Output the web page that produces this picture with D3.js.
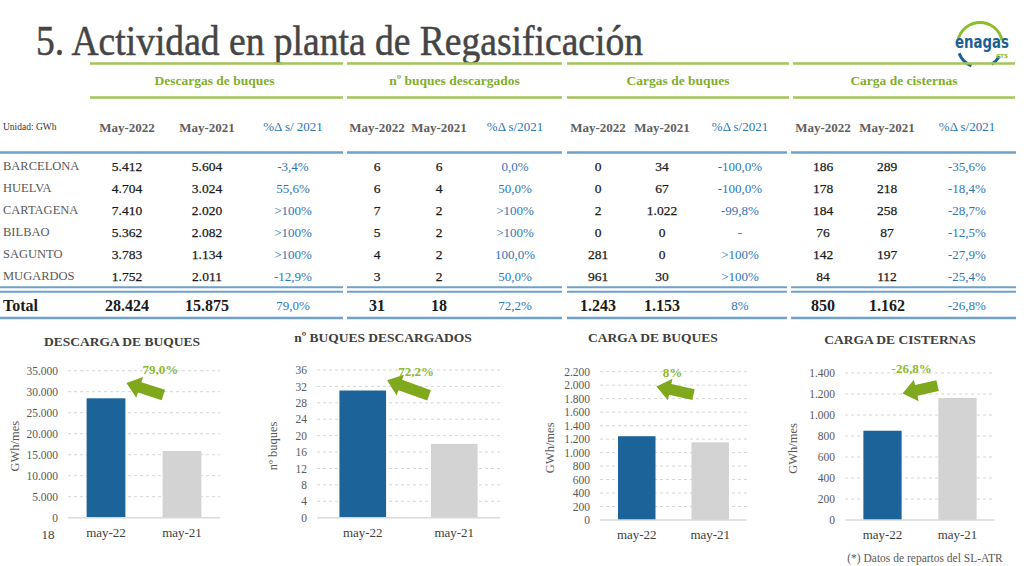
<!DOCTYPE html>
<html>
<head>
<meta charset="utf-8">
<script src="https://cdn.jsdelivr.net/npm/d3@7"></script>
<style>
body { margin: 0; background: #fff; }
svg text { font-family: "Liberation Serif", "Times New Roman", serif; }
</style>
</head>
<body>
<svg id="chart" width="1024" height="566"></svg>
<script>
// datos de la tabla
var plants = ["BARCELONA", "HUELVA", "CARTAGENA", "BILBAO", "SAGUNTO", "MUGARDOS"];
var descargas22 = [5412, 4704, 7410, 5362, 3783, 1752];
var descargas21 = [5604, 3024, 2020, 2082, 1134, 2011];
var descargasPct = ["-3,4%", "55,6%", ">100%", ">100%", ">100%", "-12,9%"];
var buques22 = [6, 6, 7, 5, 4, 3];
var buques21 = [6, 4, 2, 2, 2, 2];
var buquesPct = ["0,0%", "50,0%", ">100%", ">100%", "100,0%", "50,0%"];
var cargas22 = [0, 0, 2, 0, 281, 961];
var cargas21 = [34, 67, 1022, 0, 0, 30];
var cargasPct = ["-100,0%", "-100,0%", "-99,8%", "-", ">100%", ">100%"];
var cisternas22 = [186, 178, 184, 76, 142, 84];
var cisternas21 = [289, 218, 258, 87, 197, 112];
var cisternasPct = ["-35,6%", "-18,4%", "-28,7%", "-12,5%", "-27,9%", "-25,4%"];
var totals22 = [28424, 31, 1243, 850];
var totals21 = [15875, 18, 1153, 1162];
var totalsPct = ["79,0%", "72,2%", "8%", "-26,8%"];

var groupTitles = ["Descargas de buques", "nº buques descargados", "Cargas de buques", "Carga de cisternas"];
var colHeaders = ["May-2022", "May-2021"];
var pctHeaders = ["%Δ s/ 2021", "%Δ s/2021", "%Δ s/2021", "%Δ s/2021"];

// datos de los graficos
var chartTitles = ["DESCARGA DE BUQUES", "nº BUQUES DESCARGADOS", "CARGA DE BUQUES", "CARGA DE CISTERNAS"];
var chartUnits = ["GWh/mes", "nº buques", "GWh/mes", "GWh/mes"];
var months = ["may-22", "may-21"];
var yMax = [35000, 36, 2200, 1400];
var yStep = [5000, 4, 200, 200];

var green = "#a3c55a", greenText = "#83ad2c", arrowGreen = "#7fa81c";
var blueLine = "#6fa1c9", blueText = "#2e75b6", grayText = "#595959";

var es = d3.formatLocale({decimal: ",", thousands: ".", grouping: [3], currency: ["", "€"]});
var fmt = es.format(",d");

var svg = d3.select("#chart");

// titulo
svg.append("text")
    .attr("x", 36).attr("y", 55)
    .attr("textLength", 607).attr("lengthAdjust", "spacingAndGlyphs")
    .style("font-size", "42px").style("fill", "#454545")
    .style("stroke", "#454545").style("stroke-width", 0.5)
    .text("5. Actividad en planta de Regasificación");

// logo
var logo = svg.append("g").attr("transform", "translate(980,45)");
var arc = d3.arc().innerRadius(21).outerRadius(24);
logo.append("path").attr("d", arc({startAngle: -1.35, endAngle: 1.35})).style("fill", "#8cbd2b");
logo.append("path").attr("d", arc({startAngle: -2.75, endAngle: -1.95})).style("fill", "#1d5f93");
logo.append("path").attr("d", arc({startAngle: 2.1, endAngle: 2.6})).style("fill", "#1d5f93");
logo.append("text").attr("x", 2).attr("y", 3).attr("text-anchor", "middle")
    .style("font-family", "'DejaVu Sans Condensed', 'Liberation Sans Narrow', sans-serif")
    .style("font-size", "17px").style("font-weight", "bold").style("fill", "#1d5f93")
    .attr("textLength", 54).attr("lengthAdjust", "spacingAndGlyphs")
    .text("enagas");
logo.append("text").attr("x", 22).attr("y", 13).attr("text-anchor", "middle")
    .style("font-family", "'DejaVu Sans', sans-serif")
    .style("font-size", "5.5px").style("font-weight", "bold").style("fill", "#8cbd2b")
    .text("GTS");

// cabecera de la tabla
var greenSegs = [[90, 343], [347, 562], [567, 789], [793, 1015]];
var blueSegs = [[0, 343], [347, 562], [567, 787], [791, 1016]];
var colX = [[127, 207, 293], [377, 439, 515], [598, 662, 740], [823, 887, 967]];

var rowY = d3.scalePoint().domain(plants).range([166, 276]);

[63.5, 97.5].forEach(function (y) {
    svg.append("g").selectAll("line").data(greenSegs).enter().append("line")
        .attr("x1", function (d) { return d[0]; }).attr("x2", function (d) { return d[1]; })
        .attr("y1", y).attr("y2", y)
        .style("stroke", green).style("stroke-width", 2.5);
});

svg.append("g").selectAll("text").data(groupTitles).enter().append("text")
    .attr("x", function (d, i) { return (greenSegs[i][0] + greenSegs[i][1]) / 2 + (i == 0 ? -2 : 0); })
    .attr("y", 80).attr("dy", "0.35em").attr("text-anchor", "middle")
    .style("font-size", "13.5px").style("font-weight", "bold").style("fill", greenText)
    .text(function (d) { return d; });

svg.append("text").attr("x", 3).attr("y", 127).attr("dy", "0.35em")
    .style("font-size", "9.5px").style("fill", "#333").text("Unidad: GWh");

colX.forEach(function (cx, g) {
    colHeaders.forEach(function (h, k) {
        svg.append("text").attr("x", cx[k]).attr("y", 127).attr("dy", "0.35em")
            .attr("text-anchor", "middle")
            .style("font-size", "13px").style("font-weight", "bold").style("fill", "#5f5f5f")
            .text(h);
    });
    svg.append("text").attr("x", cx[2]).attr("y", 126).attr("dy", "0.35em")
        .attr("text-anchor", "middle")
        .style("font-size", "13px").style("fill", blueText)
        .text(pctHeaders[g]);
});

// lineas azules
[[152.5, 2.5], [287.3, 2], [291.7, 2], [318, 2.5]].forEach(function (l) {
    svg.append("g").selectAll("line").data(blueSegs).enter().append("line")
        .attr("x1", function (d) { return d[0]; }).attr("x2", function (d) { return d[1]; })
        .attr("y1", l[0]).attr("y2", l[0])
        .style("stroke", blueLine).style("stroke-width", l[1]);
});

// filas
svg.append("g").selectAll("text").data(plants).enter().append("text")
    .attr("x", 3).attr("y", function (d) { return rowY(d); }).attr("dy", "0.35em")
    .style("font-size", "12.5px").style("fill", grayText)
    .text(function (d) { return d; });

var groups = [
    [descargas22, descargas21, descargasPct],
    [buques22, buques21, buquesPct],
    [cargas22, cargas21, cargasPct],
    [cisternas22, cisternas21, cisternasPct]
];

groups.forEach(function (grp, g) {
    grp.forEach(function (col, k) {
        svg.append("g").selectAll("text").data(col).enter().append("text")
            .attr("x", colX[g][k])
            .attr("y", function (d, i) { return rowY(plants[i]); }).attr("dy", "0.35em")
            .attr("text-anchor", "middle")
            .style("font-size", k < 2 ? "13.5px" : "13px")
            .style("fill", k < 2 ? "#1a1a1a" : blueText)
            .style("stroke", k < 2 ? "#1a1a1a" : "none").style("stroke-width", 0.25)
            .text(function (d) { return k < 2 ? fmt(d) : d; });
    });
});

// fila total
svg.append("text").attr("x", 3).attr("y", 305).attr("dy", "0.35em")
    .style("font-size", "16px").style("font-weight", "bold").style("fill", "#1a1a1a").text("Total");

totals22.forEach(function (v, g) {
    svg.append("text").attr("x", colX[g][0]).attr("y", 305).attr("dy", "0.35em")
        .attr("text-anchor", "middle").style("font-size", "16px").style("font-weight", "bold")
        .style("fill", "#1a1a1a").text(fmt(v));
    svg.append("text").attr("x", colX[g][1]).attr("y", 305).attr("dy", "0.35em")
        .attr("text-anchor", "middle").style("font-size", "16px").style("font-weight", "bold")
        .style("fill", "#1a1a1a").text(fmt(totals21[g]));
    svg.append("text").attr("x", colX[g][2]).attr("y", 305).attr("dy", "0.35em")
        .attr("text-anchor", "middle").style("font-size", "13px")
        .style("fill", blueText).text(totalsPct[g]);
});

// graficos de barras
var panels = [
    {left: 68, right: 220, top: 370.7, bottom: 517.7, titleX: 122, titleY: 341, axisX: 15, labelDx: 35, labelDy: -1, tipAt: 0.916, arrow: [37, 12]},
    {left: 317, right: 500, top: 370, bottom: 517.7, titleX: 383, titleY: 337, axisX: 273, labelDx: 30, labelDy: 1, tipAt: 0.93, arrow: [42, 15]},
    {left: 600, right: 747, top: 371.7, bottom: 520, titleX: 653, titleY: 337, axisX: 550, labelDx: 17, labelDy: 1, tipAt: 0.9, arrow: [37, 8]},
    {left: 845, right: 995, top: 373, bottom: 520, titleX: 900, titleY: 339, axisX: 793, labelDx: 10, labelDy: -5, tipAt: 0.86, arrow: [35, -8]}
];

function blockArrow(tip, dx, dy) {
    var len = Math.sqrt(dx * dx + dy * dy);
    var ux = dx / len, uy = dy / len, px = -uy, py = ux;
    var head = 14, hw = 11, sw = 5.5;
    var pts = [
        [0, 0],
        [head, hw], [head, sw], [len, sw],
        [len, -sw], [head, -sw], [head, -hw]
    ];
    return "M" + pts.map(function (p) {
        return [tip[0] + ux * p[0] + px * p[1], tip[1] + uy * p[0] + py * p[1]].join(",");
    }).join("L") + "Z";
}

panels.forEach(function (p, c) {
    var g = svg.append("g");
    var vals = [totals22[c], totals21[c]];

    var x = d3.scaleBand().domain(months).range([p.left, p.right])
        .paddingInner(0.49).paddingOuter(0.245);
    var y = d3.scaleLinear().domain([0, yMax[c]]).range([p.bottom, p.top]);
    var ticks = d3.range(0, yMax[c] + yStep[c] / 2, yStep[c]);

    g.append("text").attr("x", p.titleX).attr("y", p.titleY).attr("dy", "0.35em")
        .attr("text-anchor", "middle")
        .style("font-size", "13.5px").style("font-weight", "bold").style("fill", "#404040")
        .text(chartTitles[c]);

    // rejilla
    g.append("g").selectAll("line").data(ticks.slice(1)).enter().append("line")
        .attr("x1", p.left).attr("x2", p.right)
        .attr("y1", function (d) { return y(d); }).attr("y2", function (d) { return y(d); })
        .style("stroke", "#d6d6d6").style("stroke-width", 1).style("stroke-dasharray", "3,3");

    var yAxis = g.append("g").attr("transform", "translate(" + p.left + ",0)")
        .call(d3.axisLeft(y).tickValues(ticks).tickFormat(fmt).tickSize(0).tickPadding(10));
    yAxis.select(".domain").remove();
    yAxis.selectAll("text").style("font-family", "'Liberation Serif', serif")
        .style("font-size", "11.5px").style("fill", grayText);

    g.append("text")
        .attr("transform", "translate(" + p.axisX + "," + ((p.top + p.bottom) / 2 + 2) + ") rotate(-90)")
        .attr("text-anchor", "middle").attr("dy", "0.35em")
        .style("font-size", "12.5px").style("fill", grayText)
        .text(chartUnits[c]);

    g.append("g").selectAll("rect").data(vals).enter().append("rect")
        .attr("x", function (d, i) { return x(months[i]); })
        .attr("width", x.bandwidth())
        .attr("y", function (d) { return y(d); })
        .attr("height", function (d) { return y(0) - y(d); })
        .style("fill", function (d, i) { return i == 0 ? "#1b6399" : "#d3d3d3"; });

    g.append("line").attr("x1", p.left).attr("x2", p.right)
        .attr("y1", y(0)).attr("y2", y(0))
        .style("stroke", "#d9d9d9").style("stroke-width", 1.5);

    var xAxis = g.append("g").attr("transform", "translate(0," + y(0) + ")")
        .call(d3.axisBottom(x).tickSize(0).tickPadding(10));
    xAxis.select(".domain").remove();
    xAxis.selectAll("text").style("font-family", "'Liberation Serif', serif")
        .style("font-size", "13px").style("fill", "#404040");

    // flecha y variacion
    var barRight = x(months[0]) + x.bandwidth();
    var tip = [barRight + 1, y(yMax[c] * p.tipAt)];
    g.append("path").attr("d", blockArrow(tip, p.arrow[0], p.arrow[1]))
        .style("fill", arrowGreen);
    g.append("text").attr("x", barRight + p.labelDx).attr("y", y(yMax[c]) + p.labelDy).attr("dy", "0.35em")
        .attr("text-anchor", "middle")
        .style("font-size", "13px").style("font-weight", "bold").style("fill", "#8cb832")
        .text(totalsPct[c]);
});

svg.append("text").attr("x", 48).attr("y", 534).attr("dy", "0.35em").attr("text-anchor", "middle")
    .style("font-size", "13px").style("fill", "#404040").text("18");

svg.append("text").attr("x", 925).attr("y", 558).attr("dy", "0.35em").attr("text-anchor", "middle")
    .style("font-size", "11.5px").style("fill", grayText).text("(*) Datos de repartos del SL-ATR");
</script>
</body>
</html>
